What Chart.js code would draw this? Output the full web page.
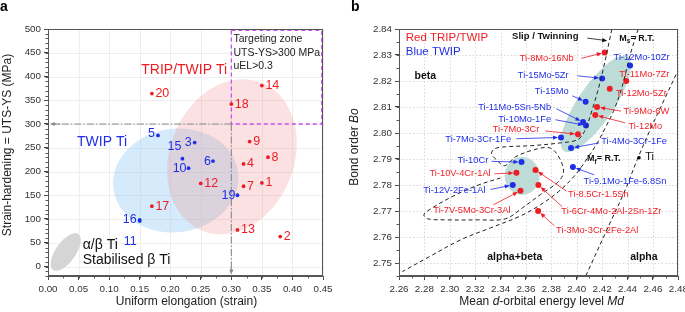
<!DOCTYPE html>
<html>
<head>
<meta charset="utf-8">
<script src="https://cdn.jsdelivr.net/npm/chart.js@4.4.0/dist/chart.umd.min.js"></script>
<style>
  html, body { margin: 0; padding: 0; background: #fff; }
  #wrap { position: relative; width: 685px; height: 312px; overflow: hidden; }
  #ca { position: absolute; left: 0; top: 0; }
  #cb { position: absolute; left: 345px; top: 0; }
</style>
</head>
<body>
<div id="wrap">
  <canvas id="ca" width="345" height="312"></canvas>
  <canvas id="cb" width="350" height="312"></canvas>
</div>
<script>
const FONT = '"Liberation Sans", Arial, Helvetica, sans-serif';
const RED = '#ee1d23';
const BLUE = '#1f2fe8';

// ---------- panel a : strain hardening vs uniform elongation ----------
const aIds   = ['1','2','3','4','5','6','7','8','9','10','11','12','13','14','15','16','17','18','19','20'];
const aElong = [0.35, 0.38, 0.24, 0.32, 0.18, 0.27, 0.32, 0.36, 0.33, 0.23, 0.15, 0.25, 0.31, 0.35, 0.22, 0.15, 0.17, 0.30, 0.31, 0.17];
const aHard  = [176, 63, 261, 216, 276, 222, 169, 230, 263, 207, 96, 175, 77, 381, 227, 98, 127, 342, 150, 364];
const aKind  = ['r','r','b','r','b','b','r','r','r','b','b','r','r','r','b','b','r','r','b','r'];

// shaded groups (TWIP, TRIP/TWIP, alpha/beta)
const zoneX   = [0.209, 0.301, 0.029];
const zoneY   = [181, 231, 30.5];
const zoneRx  = [0.103, 0.1016, 0.036];
const zoneRy  = [109, 168, 21];
const zoneRot = [-8, 22, -55];
const zoneFill = ['rgba(150,205,245,0.40)', 'rgba(240,130,130,0.24)', '#d5d5d5'];

// label nudges for the blue numbers (px)
const aLabelShift = { '3': [-3, 0], '5': [-3, -2], '6': [-2, 0], '10': [-2, 0], '11': [-3, 21], '15': [-1, -12.5], '16': [-3, 0], '19': [-2, 0] };

// ---------- panel b : Bo-Md map ----------
const bNames = ['Ti-8Mo-16Nb','Ti-12Mo-10Zr','Ti-11Mo-7Zr','Ti-15Mo-5Zr','Ti-12Mo-5Zr','Ti-15Mo','Ti-9Mo-6W','Ti-12Mo',
  'Ti-11Mo-5Sn-5Nb','Ti-10Mo-1Fe','Ti-7Mo-3Cr','Ti-7Mo-3Cr-1Fe','Ti-4Mo-3Cr-1Fe','Ti-10Cr','Ti-9.1Mo-1Fe-6.8Sn',
  'Ti-10V-4Cr-1Al','Ti-8.5Cr-1.5Sn','Ti-12V-2Fe-1Al','Ti-6Cr-4Mo-2Al-2Sn-1Zr','Ti-7V-5Mo-3Cr-3Al','Ti-3Mo-3Cr-2Fe-2Al'];
const bMd = [2.422, 2.442, 2.439, 2.420, 2.426, 2.407, 2.416, 2.4146, 2.405, 2.4073, 2.401, 2.3876, 2.3955, 2.3565, 2.397,
  2.3525, 2.3675, 2.3496, 2.3698, 2.3557, 2.3696];
const bBo = [2.831, 2.826, 2.820, 2.821, 2.817, 2.812, 2.810, 2.8069, 2.8042, 2.8029, 2.7995, 2.7983, 2.7942, 2.7888, 2.7869,
  2.7847, 2.7858, 2.7800, 2.7800, 2.7778, 2.7700];
const bKind = ['r','b','r','b','r','b','r','r','b','b','r','b','b','b','b','r','r','b','r','r','r'];

// where each name is written, and where its arrow starts (null = no arrow)
const bLabMd  = [2.3975, 2.4290, 2.4335, 2.3936, 2.4309, 2.3936, 2.4369, 2.4408, 2.3798, 2.3798, 2.3706, 2.3483, 2.4193, 2.3303, 2.4054,
  2.3322, 2.3932, 2.3281, 2.3879, 2.3478, 2.3837];
const bLabBo  = [2.8285, 2.8292, 2.8224, 2.8220, 2.8154, 2.8159, 2.8083, 2.8025, 2.8100, 2.8053, 2.8015, 2.7974, 2.7967, 2.7894, 2.7813,
  2.7843, 2.7762, 2.7779, 2.7698, 2.7702, 2.7627];
const bLabAlign = ['right','left','left','right','left','right','left','left','right','right','right','right','left','right','left',
  'right','left','right','left','right','left'];
const bTailMd = [2.4036, null, null, 2.4005, null, 2.3965, 2.4350, 2.4382, 2.3840, 2.3832, 2.3753, 2.3525, 2.4177, 2.3329, 2.4138,
  2.3352, 2.3918, 2.3321, 2.3887, 2.3344, 2.3824];
const bTailBo = [2.8287, null, null, 2.8220, null, 2.8143, 2.8084, 2.8039, 2.8093, 2.8051, 2.8008, 2.7978, 2.7962, 2.7891, 2.7839,
  2.7843, 2.7777, 2.7783, 2.7716, 2.7724, 2.7643];

const tiMd = [2.449];
const tiBo = [2.7905];

// dashed boundaries
const betaMd = [2.4277, 2.4193, 2.4122, 2.4060, 2.4005, 2.3871, 2.3635, 2.3439, 2.3352, 2.3329, 2.3368, 2.3431, 2.3517, 2.3659, 2.3792,
  2.3871, 2.3895, 2.3847, 2.3714, 2.3572, 2.3439, 2.3226, 2.2967, 2.2825, 2.2796, 2.2849, 2.3046, 2.3226, 2.3399];
const betaBo = [2.8400, 2.8213, 2.8090, 2.8005, 2.7974, 2.7962, 2.7951, 2.7947, 2.7939, 2.7920, 2.7897, 2.7874, 2.7908, 2.7935, 2.7942,
  2.7897, 2.7847, 2.7809, 2.7763, 2.7712, 2.7670, 2.7666, 2.7666, 2.7670, 2.7685, 2.7708, 2.7762, 2.7800, 2.7827];
const msMd = [2.4484, 2.4421, 2.4382, 2.4343, 2.4288, 2.4225, 2.4162, 2.4091, 2.3989, 2.3855, 2.3714, 2.3557, 2.3321, 2.3085, 2.2849, 2.2627];
const msBo = [2.8400, 2.8301, 2.8224, 2.8155, 2.8082, 2.8020, 2.7962, 2.7908, 2.7839, 2.7774, 2.7724, 2.7681, 2.7635, 2.7589, 2.7527, 2.7467];
const mfMd = [2.4071, 2.4248, 2.4382, 2.4476, 2.4578, 2.4696, 2.4800];
const mfBo = [2.7450, 2.7639, 2.7781, 2.7897, 2.8012, 2.8135, 2.8243];

// shaded groups in panel b
const bZoneMd  = [2.415, 2.357];
const bZoneBo  = [2.8112, 2.7835];
const bZoneRx  = [0.0448, 0.01376];
const bZoneRy  = [0.00693, 0.00731];
const bZoneRot = [-56, 0];

// ---------- helpers ----------
function pts(xs, ys, keep) {
  const out = [];
  xs.forEach((v, i) => { if (!keep || keep(i)) out.push({ x: v, y: ys[i] }); });
  return out;
}

function gridLines(chart, color, dash) {
  const { ctx, chartArea: a, scales: { x, y } } = chart;
  ctx.save();
  ctx.strokeStyle = color; ctx.lineWidth = 1; ctx.setLineDash(dash);
  ctx.beginPath();
  x.ticks.forEach(t => { const p = Math.round(x.getPixelForValue(t.value)) + 0.5; ctx.moveTo(p, a.top); ctx.lineTo(p, a.bottom); });
  y.ticks.forEach(t => { const p = Math.round(y.getPixelForValue(t.value)) + 0.5; ctx.moveTo(a.left, p); ctx.lineTo(a.right, p); });
  ctx.stroke();
  ctx.restore();
}

function frame(chart, xMinor, yMinor) {
  const { ctx, chartArea: a, scales: { x, y } } = chart;
  ctx.save();
  ctx.strokeStyle = '#555'; ctx.lineWidth = 1;
  ctx.strokeRect(Math.round(a.left) + 0.5, Math.round(a.top) + 0.5, Math.round(a.right) - Math.round(a.left) - 1, Math.round(a.bottom) - Math.round(a.top) - 1);
  ctx.beginPath();
  const nx = Math.round((x.max - x.min) / xMinor);
  for (let i = 0; i <= nx; i++) {
    const p = Math.round(x.getPixelForValue(x.min + i * xMinor)) + 0.5;
    ctx.moveTo(p, a.bottom); ctx.lineTo(p, a.bottom + 2.5);
  }
  const y0 = Math.ceil(y.min / yMinor - 1e-6) * yMinor;
  const ny = Math.floor((y.max - y0) / yMinor + 1e-6);
  for (let i = 0; i <= ny; i++) {
    const p = Math.round(y.getPixelForValue(y0 + i * yMinor)) + 0.5;
    ctx.moveTo(a.left, p); ctx.lineTo(a.left - 2.5, p);
  }
  ctx.stroke();
  ctx.restore();
}

function arrow(ctx, x1, y1, x2, y2, color, head, gap, width) {
  const ang = Math.atan2(y2 - y1, x2 - x1);
  const c = Math.cos(ang), s = Math.sin(ang);
  const ex = x2 - c * gap, ey = y2 - s * gap;
  ctx.strokeStyle = color; ctx.fillStyle = color; ctx.lineWidth = width || 0.8;
  ctx.setLineDash([]);
  ctx.beginPath(); ctx.moveTo(x1, y1); ctx.lineTo(ex - c * head * 0.7, ey - s * head * 0.7); ctx.stroke();
  ctx.beginPath();
  ctx.moveTo(ex, ey);
  ctx.lineTo(ex - head * c + head * 0.42 * s, ey - head * s - head * 0.42 * c);
  ctx.lineTo(ex - head * c - head * 0.42 * s, ey - head * s + head * 0.42 * c);
  ctx.closePath(); ctx.fill();
}

// parts: [text, font, dy]
function rich(ctx, parts, x, y, align) {
  let w = 0;
  parts.forEach(p => { ctx.font = p[1]; w += ctx.measureText(p[0]).width; });
  let cx = align === 'center' ? x - w / 2 : (align === 'right' ? x - w : x);
  ctx.textAlign = 'left';
  parts.forEach(p => { ctx.font = p[1]; ctx.fillText(p[0], cx, y + (p[2] || 0)); cx += ctx.measureText(p[0]).width; });
}

function axis(min, max, step, dec, fit) {
  return {
    type: 'linear', min: min, max: max,
    ticks: {
      stepSize: step, includeBounds: false, autoSkip: false, maxRotation: 0,
      color: '#333', font: { family: FONT, size: 9.8 }, padding: 3,
      callback: v => Number(v).toFixed(dec)
    },
    grid: { drawOnChartArea: false, tickLength: 4, tickColor: '#444' },
    border: { color: '#555' },
    afterFit: fit
  };
}

// ---------- panel a chart ----------
const aPlugin = {
  id: 'aPlugin',
  beforeDatasetsDraw(chart) {
    const { ctx, chartArea: a, scales: { x, y } } = chart;
    gridLines(chart, '#eeeeee', []);
    ctx.save();
    ctx.beginPath(); ctx.rect(a.left, a.top, a.width, a.height); ctx.clip();
    for (let i = 0; i < zoneX.length; i++) {
      const cx = x.getPixelForValue(zoneX[i]), cy = y.getPixelForValue(zoneY[i]);
      const rx = Math.abs(x.getPixelForValue(zoneX[i] + zoneRx[i]) - cx);
      const ry = Math.abs(y.getPixelForValue(zoneY[i] + zoneRy[i]) - cy);
      ctx.fillStyle = zoneFill[i];
      ctx.beginPath(); ctx.ellipse(cx, cy, rx, ry, zoneRot[i] * Math.PI / 180, 0, Math.PI * 2); ctx.fill();
    }
    // targeting zone
    const x30 = x.getPixelForValue(0.30), y300 = y.getPixelForValue(300);
    ctx.strokeStyle = '#c84ff0'; ctx.lineWidth = 1.3; ctx.setLineDash([4, 3]);
    ctx.strokeRect(x30, y.getPixelForValue(497), x.getPixelForValue(0.448) - x30, y300 - y.getPixelForValue(497));
    // guide lines
    ctx.strokeStyle = '#8a8a8a'; ctx.lineWidth = 1.1; ctx.setLineDash([7, 2, 1.5, 2]);
    ctx.beginPath();
    ctx.moveTo(x30, y300); ctx.lineTo(x.getPixelForValue(0.01), y300);
    ctx.moveTo(x30, y300); ctx.lineTo(x30, y.getPixelForValue(-12));
    ctx.stroke();
    arrow(ctx, x.getPixelForValue(0.02), y300, x.getPixelForValue(0.003), y300, '#8a8a8a', 5, 0, 1);
    arrow(ctx, x30, y.getPixelForValue(-2), x30, y.getPixelForValue(-17), '#8a8a8a', 5, 0, 1);
    ctx.restore();
  },
  afterDatasetsDraw(chart) {
    const { ctx, scales: { x, y } } = chart;
    ctx.save();
    ctx.textBaseline = 'middle';
    ctx.font = '12.5px ' + FONT;
    aIds.forEach((id, i) => {
      const px = x.getPixelForValue(aElong[i]), py = y.getPixelForValue(aHard[i]);
      const blue = aKind[i] === 'b';
      const sh = aLabelShift[id] || [3.5, 0];
      ctx.fillStyle = blue ? BLUE : RED;
      ctx.textAlign = blue ? 'right' : 'left';
      ctx.fillText(id, px + sh[0], py + sh[1]);
    });
    ctx.textAlign = 'center';
    ctx.font = '14px ' + FONT;
    ctx.fillStyle = RED; ctx.fillText('TRIP/TWIP Ti', x.getPixelForValue(0.2228), y.getPixelForValue(414));
    ctx.fillStyle = BLUE; ctx.fillText('TWIP Ti', x.getPixelForValue(0.0885), y.getPixelForValue(261));
    ctx.textAlign = 'left';
    ctx.fillStyle = '#111';
    ctx.fillText('\u03b1/\u03b2 Ti', x.getPixelForValue(0.0568), y.getPixelForValue(45));
    ctx.fillText('Stabilised \u03b2 Ti', x.getPixelForValue(0.0568), y.getPixelForValue(13));
    ctx.font = '10.5px ' + FONT;
    ctx.fillStyle = '#222';
    ctx.fillText('Targeting zone', x.getPixelForValue(0.3035), y.getPixelForValue(479));
    ctx.fillText('UTS-YS>300 MPa', x.getPixelForValue(0.3035), y.getPixelForValue(449.5));
    ctx.fillText('uEL>0.3', x.getPixelForValue(0.3035), y.getPixelForValue(421));
    ctx.restore();
  },
  afterDraw(chart) {
    const { ctx, chartArea: a } = chart;
    frame(chart, 0.025, 10);
    ctx.save();
    ctx.fillStyle = '#222'; ctx.textBaseline = 'middle';
    ctx.font = '12px ' + FONT; ctx.textAlign = 'center';
    ctx.fillText('Uniform elongation (strain)', (a.left + a.right) / 2 + 1, 302);
    ctx.translate(8, 145); ctx.rotate(-Math.PI / 2);
    ctx.fillText('Strain-hardening = UTS-YS (MPa)', 0, 0);
    ctx.restore();
    ctx.save();
    ctx.fillStyle = '#000'; ctx.font = 'bold 14px ' + FONT; ctx.textBaseline = 'middle'; ctx.textAlign = 'left';
    ctx.fillText('a', 0, 7);
    ctx.restore();
  }
};

new Chart(document.getElementById('ca'), {
  type: 'scatter',
  data: {
    datasets: [
      { label: 'TRIP/TWIP Ti', data: pts(aElong, aHard, i => aKind[i] === 'r'), backgroundColor: RED, borderWidth: 0, pointRadius: 1.9 },
      { label: 'TWIP Ti', data: pts(aElong, aHard, i => aKind[i] === 'b'), backgroundColor: BLUE, borderWidth: 0, pointRadius: 1.9 }
    ]
  },
  options: {
    responsive: false, animation: false, events: [],
    layout: { padding: { top: 29, right: 22, left: 0, bottom: 0 } },
    plugins: { legend: { display: false }, tooltip: { enabled: false } },
    scales: {
      x: axis(0, 0.45, 0.05, 2, s => { s.height = 36; }),
      y: axis(-20, 500, 50, 0, s => { s.width = 48; })
    }
  },
  plugins: [aPlugin]
});

// ---------- panel b chart ----------
const bPlugin = {
  id: 'bPlugin',
  beforeDatasetsDraw(chart) {
    const { ctx, chartArea: a, scales: { x, y } } = chart;
    gridLines(chart, '#d8d8d8', [1.5, 2]);
    ctx.save();
    ctx.beginPath(); ctx.rect(a.left, a.top, a.width, a.height); ctx.clip();
    ctx.fillStyle = '#bddcd8';
    for (let i = 0; i < bZoneMd.length; i++) {
      const cx = x.getPixelForValue(bZoneMd[i]), cy = y.getPixelForValue(bZoneBo[i]);
      const rx = Math.abs(x.getPixelForValue(bZoneMd[i] + bZoneRx[i]) - cx);
      const ry = Math.abs(y.getPixelForValue(bZoneBo[i] + bZoneRy[i]) - cy);
      ctx.beginPath(); ctx.ellipse(cx, cy, rx, ry, bZoneRot[i] * Math.PI / 180, 0, Math.PI * 2); ctx.fill();
    }
    ctx.restore();
  },
  afterDatasetsDraw(chart) {
    const { ctx, scales: { x, y } } = chart;
    ctx.save();
    ctx.textBaseline = 'middle';
    ctx.font = '9.3px ' + FONT;
    bNames.forEach((name, i) => {
      const col = bKind[i] === 'b' ? BLUE : RED;
      ctx.fillStyle = col;
      ctx.textAlign = bLabAlign[i];
      ctx.fillText(name, x.getPixelForValue(bLabMd[i]), y.getPixelForValue(bLabBo[i]));
      if (bTailMd[i] !== null) {
        arrow(ctx, x.getPixelForValue(bTailMd[i]), y.getPixelForValue(bTailBo[i]),
          x.getPixelForValue(bMd[i]), y.getPixelForValue(bBo[i]), col, 5, 3, 0.8);
      }
    });
    ctx.fillStyle = '#111'; ctx.textAlign = 'left';
    ctx.font = '11px ' + FONT;
    ctx.fillText('Ti', x.getPixelForValue(2.4539), y.getPixelForValue(2.7907));
    ctx.font = '11.5px ' + FONT;
    ctx.fillStyle = RED; ctx.fillText('Red TRIP/TWIP', x.getPixelForValue(2.2653), y.getPixelForValue(2.8365));
    ctx.fillStyle = BLUE; ctx.fillText('Blue TWIP', x.getPixelForValue(2.2653), y.getPixelForValue(2.8311));
    ctx.fillStyle = '#111';
    ctx.font = 'bold 10.5px ' + FONT;
    ctx.fillText('beta', x.getPixelForValue(2.2722), y.getPixelForValue(2.8220));
    ctx.fillText('alpha+beta', x.getPixelForValue(2.3295), y.getPixelForValue(2.7521));
    ctx.fillText('alpha', x.getPixelForValue(2.4421), y.getPixelForValue(2.7521));
    ctx.font = 'bold 9.5px ' + FONT;
    ctx.fillText('Slip / Twinning', x.getPixelForValue(2.3491), y.getPixelForValue(2.8372));
    const big = 'bold 9px ' + FONT, sub = 'bold 6.5px ' + FONT;
    rich(ctx, [['M', big], ['s', sub, 3], ['= R.T.', big]], x.getPixelForValue(2.4335), y.getPixelForValue(2.8365), 'left');
    rich(ctx, [['M', big], ['f', sub, 3], ['= R.T.', big]], x.getPixelForValue(2.4081), y.getPixelForValue(2.7900), 'left');
    arrow(ctx, x.getPixelForValue(2.4083), y.getPixelForValue(2.8365), x.getPixelForValue(2.4240), y.getPixelForValue(2.8355), '#111', 5, 0, 0.8);
    ctx.restore();
  },
  afterDraw(chart) {
    const { ctx, chartArea: a } = chart;
    frame(chart, 0.01, 0.005);
    ctx.save();
    ctx.fillStyle = '#222'; ctx.textBaseline = 'middle';
    const n = '12px ' + FONT, it = 'italic 12px ' + FONT;
    rich(ctx, [['Mean ', n], ['d', it], ['-orbital energy level ', n], ['Md', it]], (a.left + a.right) / 2 + 3, 302, 'center');
    ctx.translate(10, 147); ctx.rotate(-Math.PI / 2);
    rich(ctx, [['Bond order ', n], ['Bo', it]], 0, 0, 'center');
    ctx.restore();
    ctx.save();
    ctx.fillStyle = '#000'; ctx.font = 'bold 14px ' + FONT; ctx.textBaseline = 'middle'; ctx.textAlign = 'left';
    ctx.fillText('b', 6, 7);
    ctx.restore();
  }
};

const dashed = (xs, ys) => ({
  data: pts(xs, ys), showLine: true, borderColor: '#222', borderWidth: 1, borderDash: [4, 3],
  pointRadius: 0, tension: 0.35, fill: false
});

new Chart(document.getElementById('cb'), {
  type: 'scatter',
  data: {
    datasets: [
      Object.assign({ label: 'beta boundary' }, dashed(betaMd, betaBo)),
      Object.assign({ label: 'Ms = R.T.' }, dashed(msMd, msBo)),
      Object.assign({ label: 'Mf = R.T.' }, dashed(mfMd, mfBo)),
      { label: 'TRIP/TWIP', data: pts(bMd, bBo, i => bKind[i] === 'r'), backgroundColor: RED, borderWidth: 0, pointRadius: 3 },
      { label: 'TWIP', data: pts(bMd, bBo, i => bKind[i] === 'b'), backgroundColor: BLUE, borderWidth: 0, pointRadius: 3 },
      { label: 'Ti', data: pts(tiMd, tiBo), backgroundColor: '#000', borderWidth: 0, pointRadius: 1.8 }
    ]
  },
  options: {
    responsive: false, animation: false, events: [],
    layout: { padding: { top: 29, right: 16.7, left: 0, bottom: 0 } },
    plugins: { legend: { display: false }, tooltip: { enabled: false } },
    scales: {
      x: axis(2.26, 2.48, 0.02, 2, s => { s.height = 36; }),
      y: axis(2.745, 2.84, 0.01, 2, s => { s.width = 54; })
    }
  },
  plugins: [bPlugin]
});
</script>
</body>
</html>
